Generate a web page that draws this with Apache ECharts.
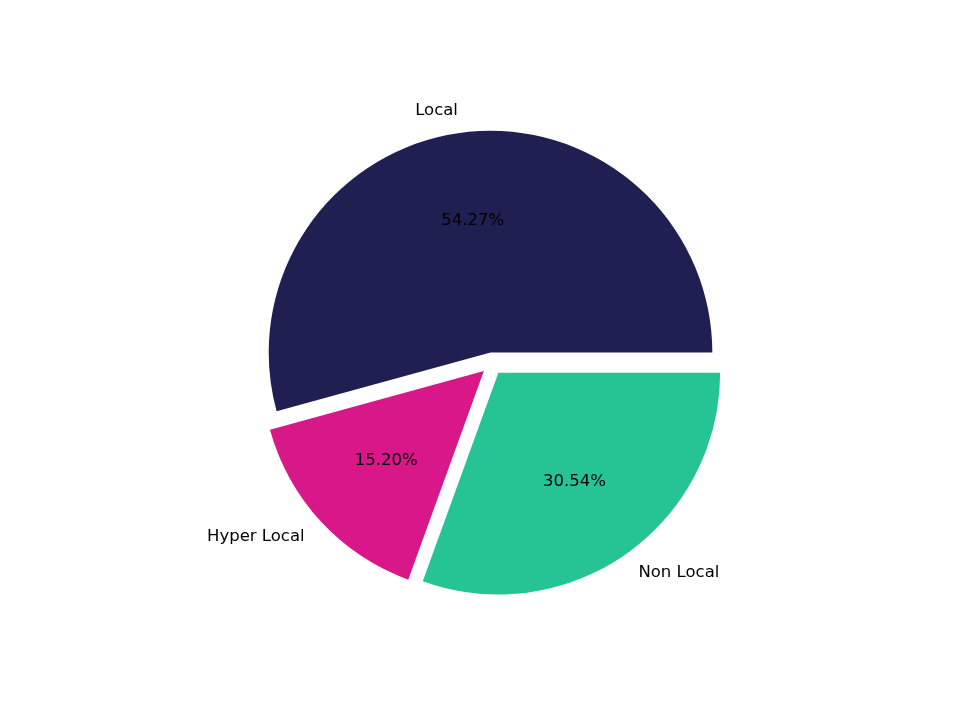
<!DOCTYPE html>
<html><head><meta charset="utf-8">
<script src="https://cdn.jsdelivr.net/npm/echarts@6/dist/echarts.min.js"></script>
<style>html,body{margin:0;padding:0;background:#fff}#c{width:960px;height:720px}</style>
</head><body><div id="c"></div>
<script>
const categories = ['Local', 'Hyper Local', 'Non Local'];
const values = [54.27, 15.20, 30.54];
const colors = ['#1f1f52', '#d81788', '#26c494'];

const R = 221.8, CX = 492, CY = 363.6, OFF = 0.05 * R;
const font = 'DejaVu Sans';
const fs = 16.5;

function mk(i, extra) {
  return Object.assign({ name: categories[i], value: values[i], selected: true,
    itemStyle: { color: colors[i] } }, extra || {});
}

const chart = echarts.init(document.getElementById('c'));
chart.setOption({
  backgroundColor: '#fff',
  animation: false,
  series: [
    {
      type: 'pie', center: [CX, CY], radius: [0, R],
      startAngle: 0, clockwise: false,
      selectedMode: 'multiple', selectedOffset: OFF,
      avoidLabelOverlap: false, silent: true,
      itemStyle: { borderWidth: 0 },
      label: { show: true, position: 'outside', formatter: '{b}', color: '#000',
        fontFamily: font, fontSize: fs, distanceToLabelLine: 0 },
      labelLine: { show: false, length: 0.1 * R, length2: 0 },
      emphasis: { disabled: true },
      data: categories.map((c, i) => mk(i))
    },
    {
      type: 'pie', center: [CX, CY], radius: [0, 1.17 * R],
      startAngle: 0, clockwise: false,
      selectedMode: 'multiple', selectedOffset: OFF,
      avoidLabelOverlap: false, silent: true, z: 3,
      itemStyle: { color: 'rgba(0,0,0,0)', borderWidth: 0 },
      label: { show: true, position: 'inside', color: '#000',
        fontFamily: font, fontSize: fs,
        formatter: p => p.value.toFixed(2) + '%' },
      labelLine: { show: false },
      emphasis: { disabled: true },
      data: categories.map((c, i) => ({ name: c, value: values[i], selected: true,
        itemStyle: { color: 'rgba(0,0,0,0)' } }))
    }
  ]
});
</script></body></html>
